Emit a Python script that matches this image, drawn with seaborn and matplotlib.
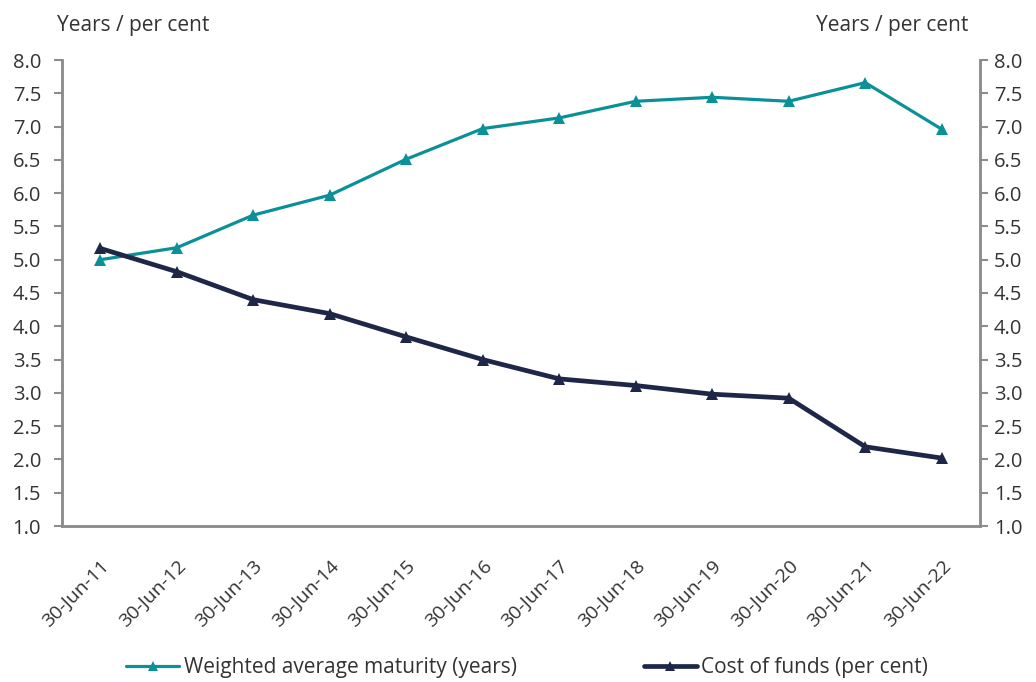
import matplotlib
matplotlib.use("Agg")
import matplotlib.pyplot as plt
import numpy as np
import pandas as pd
import seaborn as sns

categories = ["30-Jun-11", "30-Jun-12", "30-Jun-13", "30-Jun-14", "30-Jun-15", "30-Jun-16",
              "30-Jun-17", "30-Jun-18", "30-Jun-19", "30-Jun-20", "30-Jun-21", "30-Jun-22"]
wam_years = [5.00, 5.18, 5.67, 5.97, 6.51, 6.97, 7.13, 7.38, 7.44, 7.38, 7.66, 6.96]
cost_of_funds = [5.17, 4.82, 4.40, 4.19, 3.84, 3.50, 3.21, 3.11, 2.98, 2.92, 2.19, 2.02]
y_ticks = [1.0, 1.5, 2.0, 2.5, 3.0, 3.5, 4.0, 4.5, 5.0, 5.5, 6.0, 6.5, 7.0, 7.5, 8.0]

series_names = ["Weighted average maturity (years)", "Cost of funds (per cent)"]
TEAL = "#0A9198"
NAVY = "#1F2749"
TEXT = "#333333"
SPINE = "#8C8C8C"
FS = 14.5

sns.set_style("white")
plt.rcParams["font.family"] = ["Open Sans", "DejaVu Sans"]
plt.rcParams["font.size"] = FS
plt.rcParams["text.color"] = TEXT
plt.rcParams["xtick.color"] = SPINE
plt.rcParams["ytick.color"] = SPINE
plt.rcParams["xtick.labelcolor"] = TEXT
plt.rcParams["ytick.labelcolor"] = TEXT

pos = np.arange(len(categories))
df = pd.DataFrame({
    "pos": np.concatenate([pos, pos]),
    "value": wam_years + cost_of_funds,
    "series": [series_names[0]] * len(pos) + [series_names[1]] * len(pos),
})

W, H = 1036, 682
fig = plt.figure(figsize=(W / 100, H / 100), dpi=100)
ax = fig.add_axes([62 / W, 1 - 526 / H, (980 - 62) / W, (526 - 60) / H])

sns.lineplot(data=df[df.series == series_names[0]], x="pos", y="value", ax=ax,
             color=TEAL, lw=2.3, marker="^", markersize=9, markeredgewidth=0,
             label=series_names[0], legend=False)
sns.lineplot(data=df[df.series == series_names[1]], x="pos", y="value", ax=ax,
             color=NAVY, lw=3.4, marker="^", markersize=9, markeredgewidth=0,
             label=series_names[1], legend=False)

ax.set_xlim(-0.5, len(categories) - 0.5)
ax.set_ylim(1.0, 8.0)
ax.set_xlabel("")
ax.set_ylabel("")

# category labels at centres, tick marks on the boundaries
ax.set_xticks(pos)
ax.set_xticklabels(categories, rotation=45, ha="right", rotation_mode="anchor", fontsize=14)
ax.tick_params(axis="x", which="major", length=0, pad=22)
ax.set_xticks(np.arange(0.5, len(categories) - 0.5, 1.0), minor=True)
ax.tick_params(axis="x", which="minor", direction="in", length=6, width=1.5, color=SPINE)

ax.set_yticks(y_ticks)
ax.set_yticklabels([f"{v:.1f}" for v in y_ticks])
ax.tick_params(axis="y", which="major", direction="out", length=6, width=1.5, pad=9)

# secondary scale on the right mirrors the left one
ax2 = ax.twinx()
ax2.set_ylim(ax.get_ylim())
ax2.set_yticks(y_ticks)
ax2.set_yticklabels([f"{v:.1f}" for v in y_ticks])
ax2.tick_params(axis="y", which="major", direction="out", length=6, width=1.5, pad=4)

for a in (ax, ax2):
    for side in ["left", "right", "bottom"]:
        a.spines[side].set_visible(True)
        a.spines[side].set_color(SPINE)
        a.spines[side].set_linewidth(1.8)
    a.spines["top"].set_visible(False)

fig.text(57 / W, 1 - 25 / H, "Years / per cent", ha="left", va="center", fontsize=15)
fig.text(968 / W, 1 - 25 / H, "Years / per cent", ha="right", va="center", fontsize=15)

handles, labels = ax.get_legend_handles_labels()
fig.legend(handles, labels, loc="center", bbox_to_anchor=(527 / W, 1 - 668 / H),
           ncol=2, frameon=False, handlelength=2.55, handletextpad=0.2,
           columnspacing=6.1, fontsize=15, markerscale=0.8)

fig.savefig("out.png", dpi=100, facecolor="white")
